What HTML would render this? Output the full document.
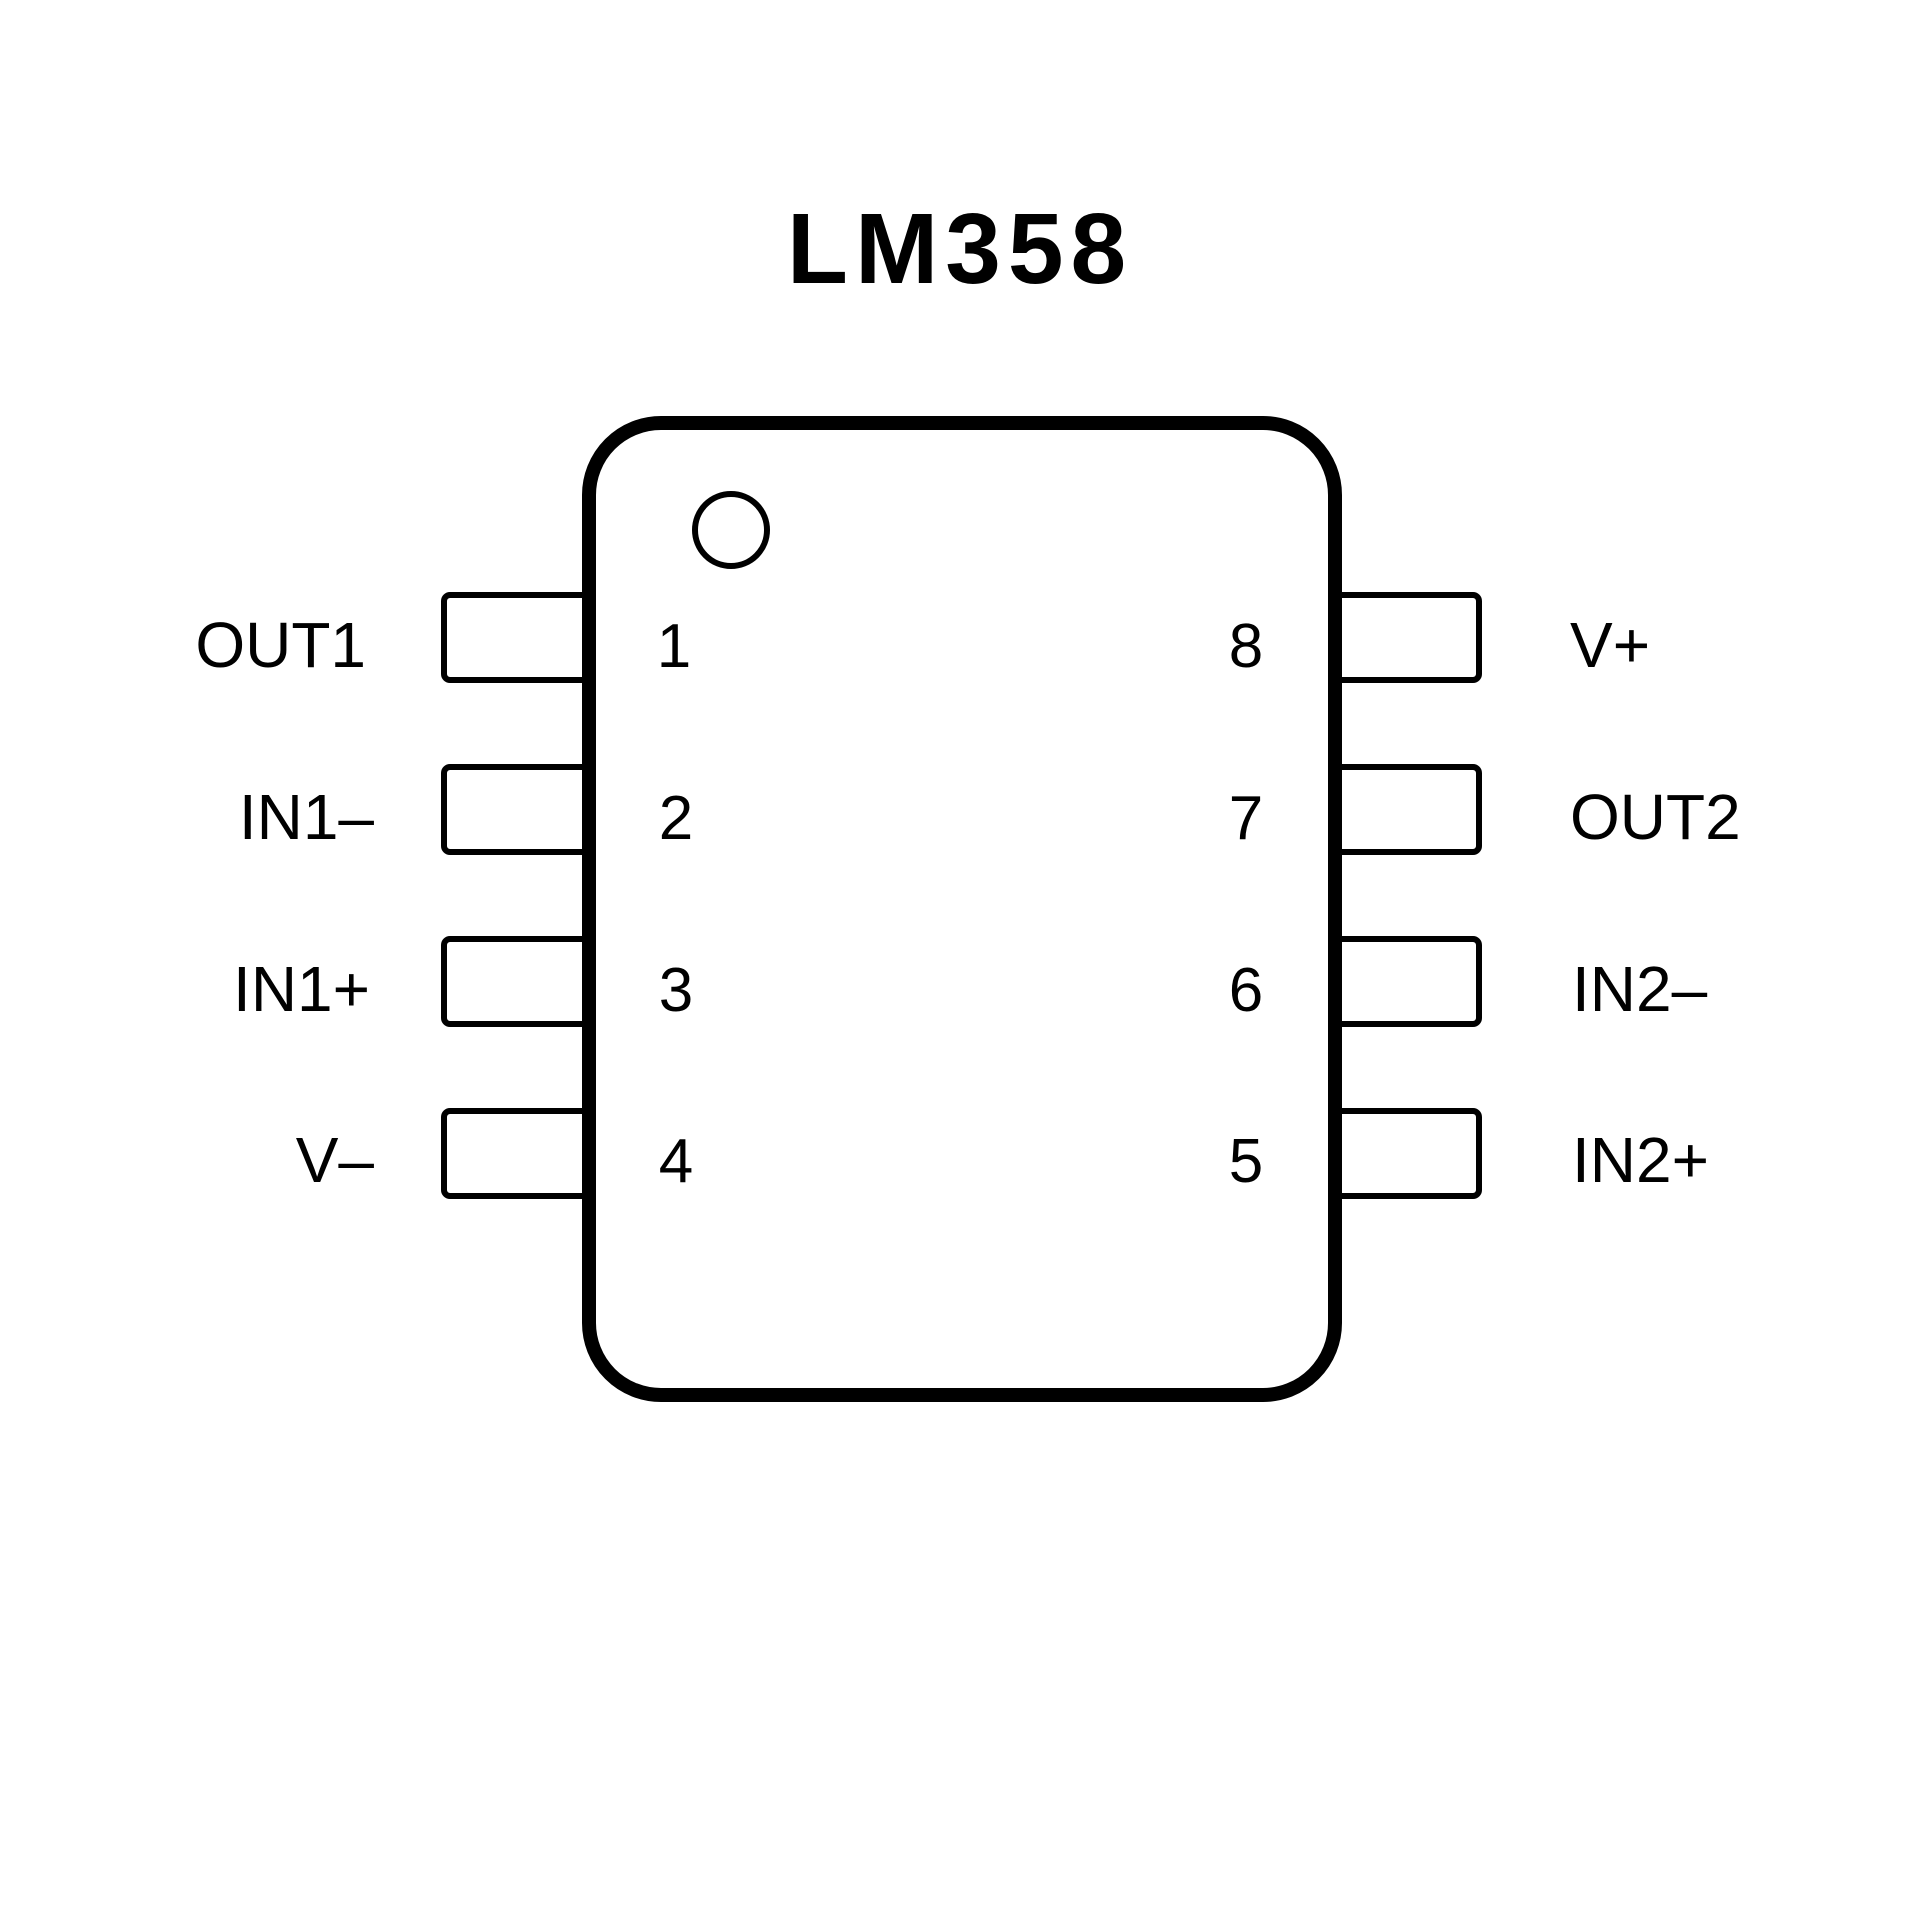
<!DOCTYPE html>
<html><head><meta charset="utf-8"><style>
html,body{margin:0;padding:0;background:#fff;}
svg{display:block;}
text{font-family:"Liberation Sans",Arial,sans-serif;fill:#000;}
</style></head><body>
<svg width="1920" height="1920" viewBox="0 0 1920 1920" xmlns="http://www.w3.org/2000/svg">
<rect width="1920" height="1920" fill="#fff"/>
<text x="960" y="283" font-size="100" font-weight="bold" text-anchor="middle" letter-spacing="7">LM358</text>
<g fill="#fff" stroke="#000" stroke-width="6">
<path d="M588,595 H450 a6,6 0 0 0 -6,6 V674 a6,6 0 0 0 6,6 H588"/>
<path d="M588,767 H450 a6,6 0 0 0 -6,6 V846 a6,6 0 0 0 6,6 H588"/>
<path d="M588,939 H450 a6,6 0 0 0 -6,6 V1018 a6,6 0 0 0 6,6 H588"/>
<path d="M588,1111 H450 a6,6 0 0 0 -6,6 V1190 a6,6 0 0 0 6,6 H588"/>
<path d="M1335,595 H1473 a6,6 0 0 1 6,6 V674 a6,6 0 0 1 -6,6 H1335"/>
<path d="M1335,767 H1473 a6,6 0 0 1 6,6 V846 a6,6 0 0 1 -6,6 H1335"/>
<path d="M1335,939 H1473 a6,6 0 0 1 6,6 V1018 a6,6 0 0 1 -6,6 H1335"/>
<path d="M1335,1111 H1473 a6,6 0 0 1 6,6 V1190 a6,6 0 0 1 -6,6 H1335"/>
</g>
<rect x="589" y="423" width="746" height="972" rx="72" ry="72" fill="#fff" stroke="#000" stroke-width="14"/>
<circle cx="731" cy="530" r="36" fill="none" stroke="#000" stroke-width="6"/>
<g font-size="64" text-anchor="end">
<text x="366" y="667">OUT1</text>
<text x="374" y="839">IN1–</text>
<text x="370" y="1011">IN1+</text>
<text x="374" y="1182">V–</text>
</g>
<g font-size="62" text-anchor="middle">
<text x="674" y="667">1</text>
<text x="676" y="839">2</text>
<text x="676" y="1011">3</text>
<text x="676" y="1182">4</text>
<text x="1246" y="667">8</text>
<text x="1246" y="839">7</text>
<text x="1246" y="1011">6</text>
<text x="1246" y="1182">5</text>
</g>
<g font-size="64">
<text x="1570" y="667">V+</text>
<text x="1570" y="839">OUT2</text>
<text x="1572" y="1011">IN2–</text>
<text x="1572" y="1182">IN2+</text>
</g>
</svg>
</body></html>
